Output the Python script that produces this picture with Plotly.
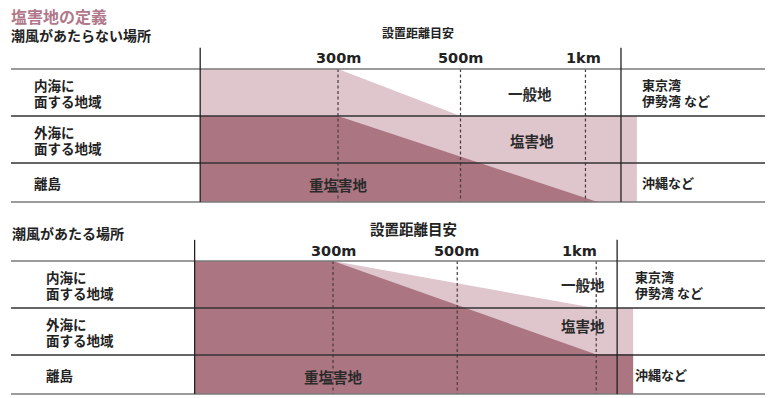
import plotly.graph_objects as go

# ─── DATOS ─────────────────────────────────────────────────────────────────────
ROWS = ["内海に<br>面する地域", "外海に<br>面する地域", "離島"]
ROW_EDGES = [0, 1, 2, 2.83]           # límites de filas (unidad = fila)
NOTES = ["東京湾<br>伊勢湾 など", "", "沖縄など"]

DIST_LABELS = ["300m", "500m", "1km"]
DIST_POS = [1, 2, 3]                  # escala de distancia (300m=1, 500m=2, 1km=3)

# 潮風があたらない場所
NW_DASH = [1, 2, 3.02]
NW_GENERAL_X = [1, 2]                 # borde 一般地 / 塩害地
NW_GENERAL_Y = [0, 1]
NW_HEAVY_X = [1, 3.12]                # borde 塩害地 / 重塩害地
NW_HEAVY_Y = [1, 2.83]

# 潮風があたる場所
W_DASH = [1, 2.01, 3.14]
W_GENERAL_X = [1, 3.13]
W_GENERAL_Y = [0, 1]
W_HEAVY_X = [1, 3.13]
W_HEAVY_Y = [0, 1.98]

ZONE_LABELS = ["一般地", "塩害地", "重塩害地"]

# ─── ESTILO ────────────────────────────────────────────────────────────────────
DARK = "#ab7682"
PALE = "#dfc6cd"
TITLE_C = "#b0788a"
FONT = "Noto Sans CJK JP"
LEFT, RIGHT, FILL_RIGHT = -0.125, 3.31, 3.44
ROW_PX = 47                           # alto de una fila en px

# la página tiene 8px de margen en el body
OFF = 8
W, H = 773 - OFF, 398 - OFF


def px(p):
    return (p - OFF) / W


def py(p):
    return 1 - (p - OFF) / H


fig = go.Figure()


def multiline(text, x, mid, yr, size, gap):
    # cada línea por separado, con interlineado más apretado
    lines = text.split("<br>")
    step = gap / ROW_PX
    start = mid - step * (len(lines) - 1) / 2
    for k, ln in enumerate(lines):
        fig.add_annotation(x=x, y=start + k * step, xref="paper", yref=yr,
                           text=f"<b>{ln}</b>", showarrow=False, xanchor="left",
                           yanchor="middle", borderpad=0,
                           font=dict(size=size, color="#222"))


def panel(xa, ya, gen_x, gen_y, heavy_x, heavy_y, dash, zone_pos, label_x, note_x,
          tick_y):
    bottom = ROW_EDGES[-1]
    # zona pálida (塩害地)
    fx = [LEFT, gen_x[0], gen_x[1], FILL_RIGHT, FILL_RIGHT, LEFT]
    fy = [0, gen_y[0], gen_y[1], gen_y[1], bottom, bottom]
    fig.add_trace(go.Scatter(x=fx, y=fy, fill="toself", fillcolor=PALE, mode="none",
                             xaxis=xa, yaxis=ya, hoverinfo="skip", showlegend=False))
    # zona oscura (重塩害地)
    if heavy_y[0] == 0:
        dx = [LEFT, heavy_x[0], heavy_x[1], FILL_RIGHT, FILL_RIGHT, LEFT]
        dy = [0, heavy_y[0], heavy_y[1], heavy_y[1], bottom, bottom]
    else:
        dx = [LEFT, heavy_x[0], heavy_x[1], LEFT]
        dy = [heavy_y[0], heavy_y[0], heavy_y[1], bottom]
    fig.add_trace(go.Scatter(x=dx, y=dy, fill="toself", fillcolor=DARK, mode="none",
                             xaxis=xa, yaxis=ya, hoverinfo="skip", showlegend=False))

    xr = "x" if xa == "x" else "x2"
    yr = "y" if ya == "y" else "y2"
    # líneas punteadas de distancia
    for d in dash:
        fig.add_shape(type="line", xref=xr, yref=yr, x0=d, x1=d, y0=0, y1=bottom,
                      line=dict(color="#4a3a3e", width=1.2, dash="3px,2.5px"))
    # líneas horizontales de filas
    for i, e in enumerate(ROW_EDGES):
        col = "#333333" if 0 < i < len(ROW_EDGES) - 1 else "#7a7a7a"
        fig.add_shape(type="line", xref="paper", yref=yr, x0=px(11), x1=px(770),
                      y0=e, y1=e, line=dict(color=col, width=1.5))
    # bordes verticales
    for v in (LEFT, RIGHT):
        fig.add_shape(type="line", xref=xr, yref=yr, x0=v, x1=v, y0=-0.45, y1=bottom,
                      line=dict(color="#222222", width=1.3))
    # etiquetas de distancia
    for lab, p in zip(DIST_LABELS, DIST_POS):
        fig.add_annotation(x=p, y=tick_y, xref=xr, yref=yr, text=f"<b>{lab}</b>",
                           showarrow=False,
                           font=dict(family="DejaVu Sans", size=14.5, color="#222"))
    # filas y notas
    for i, (r, n) in enumerate(zip(ROWS, NOTES)):
        mid = (ROW_EDGES[i] + ROW_EDGES[i + 1]) / 2
        multiline(r, label_x, mid, yr, 13.5, 16)
        if n:
            multiline(n, note_x, mid, yr, 13, 15.5)
    # zonas
    for z, (zx, zy) in zip(ZONE_LABELS, zone_pos):
        fig.add_annotation(x=zx, y=zy, xref=xr, yref=yr, text=f"<b>{z}</b>",
                           showarrow=False, font=dict(size=14.5, color="#2a2a2a"))


panel("x", "y", NW_GENERAL_X, NW_GENERAL_Y, NW_HEAVY_X, NW_HEAVY_Y, NW_DASH,
      [(2.57, 0.53), (2.58, 1.53), (1.0, 2.45)], px(33), px(641), -0.23)
panel("x2", "y2", W_GENERAL_X, W_GENERAL_Y, W_HEAVY_X, W_HEAVY_Y, W_DASH,
      [(3.03, 0.49), (3.03, 1.38), (1.0, 2.45)], px(45), px(634), -0.21)

# textos generales
fig.add_annotation(x=px(10), y=py(16), xref="paper", yref="paper",
                   text="<b>塩害地の定義</b>", showarrow=False, xanchor="left",
                   yanchor="middle", borderpad=0, font=dict(size=16, color=TITLE_C))
fig.add_annotation(x=px(10), y=py(35), xref="paper", yref="paper",
                   text="<b>潮風があたらない場所</b>", showarrow=False, xanchor="left",
                   yanchor="middle", borderpad=0, font=dict(size=14, color="#222"))
fig.add_annotation(x=px(418), y=py(33), xref="paper", yref="paper",
                   text="<b>設置距離目安</b>", showarrow=False, yanchor="middle",
                   font=dict(size=12, color="#222"))
fig.add_annotation(x=px(10), y=py(233), xref="paper", yref="paper",
                   text="<b>潮風があたる場所</b>", showarrow=False, xanchor="left",
                   yanchor="middle", font=dict(size=14, color="#222"))
fig.add_annotation(x=px(413), y=py(228), xref="paper", yref="paper",
                   text="<b>設置距離目安</b>", showarrow=False, yanchor="middle",
                   font=dict(size=14.5, color="#222"))

ax = dict(visible=False, showgrid=False, zeroline=False, fixedrange=True)
fig.update_layout(
    width=W, height=H,
    margin=dict(l=0, r=0, t=0, b=0),
    paper_bgcolor="white", plot_bgcolor="rgba(0,0,0,0)",
    font=dict(family=FONT, color="#222"),
    xaxis=dict(ax, domain=[0, 1], range=[1 - (338 - OFF) / 122.5, 1 + 435 / 122.5],
               anchor="y"),
    yaxis=dict(ax, domain=[1 - (205 - OFF) / H, 1], range=[136 / 47, (OFF - 69) / 47],
               anchor="x"),
    xaxis2=dict(ax, domain=[0, 1], range=[1 - (333 - OFF) / 123, 1 + 440 / 123],
                anchor="y2"),
    yaxis2=dict(ax, domain=[0, 1 - (205 - OFF) / H], range=[137 / 47, -56 / 47],
                anchor="x2"),
)

fig.write_html("out.html")
